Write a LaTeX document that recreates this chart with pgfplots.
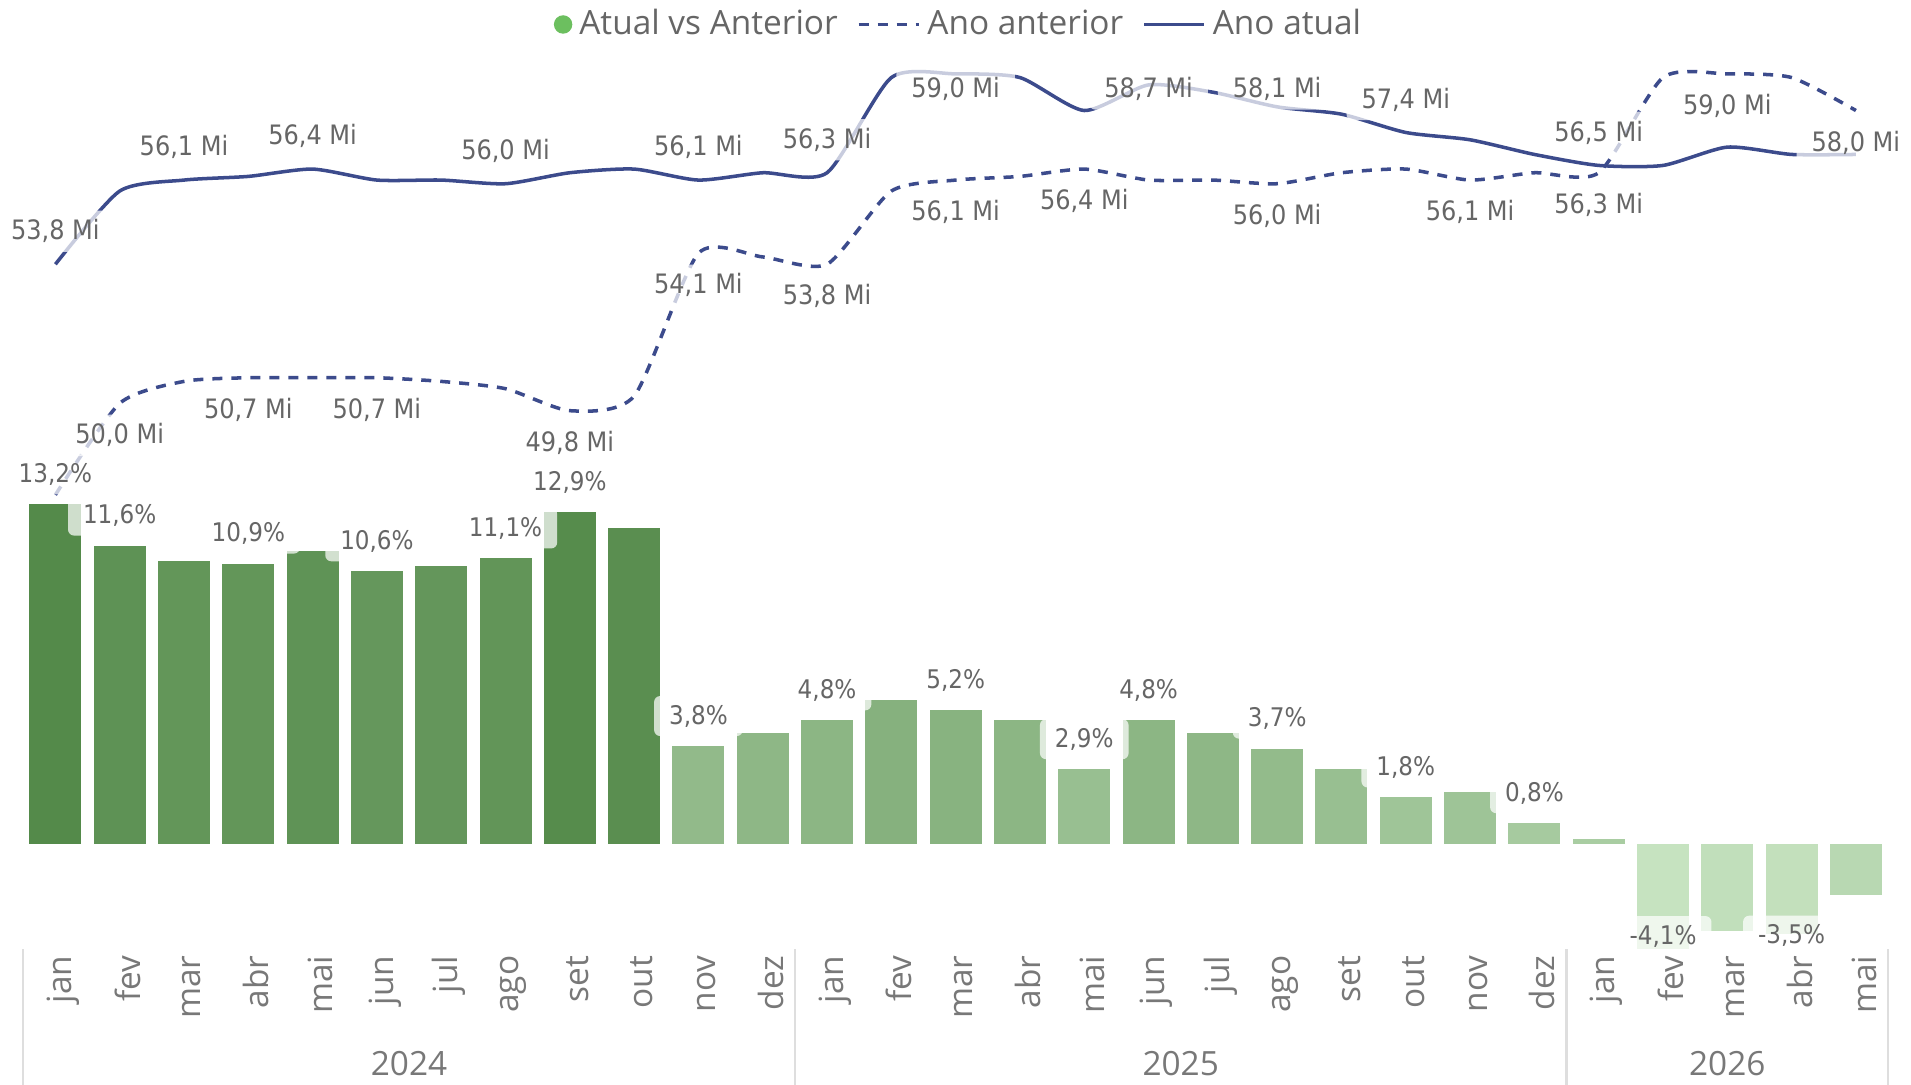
\documentclass[border=0pt]{standalone}
\usepackage{pgfplots}
\usepackage{pgfplotstable}
\pgfplotsset{compat=1.18}
\usepackage{fontspec}
\setmainfont{Open Sans}
\newfontfamily\dinfont{DejaVu Sans Condensed}

\definecolor{gdark}{RGB}{84,138,74}
\definecolor{glight}{RGB}{198,227,192}
\definecolor{navy}{RGB}{60,75,140}
\definecolor{legdot}{RGB}{108,191,95}
\definecolor{txt}{RGB}{102,102,102}
\definecolor{ticktxt}{RGB}{120,120,120}
\definecolor{sep}{RGB}{222,222,222}

% monthly totals (Mi): current year and same month one year before
\pgfplotstableread{
m atu ant
0  53.8 47.5
1  55.8 50.0
2  56.1 50.6
3  56.2 50.7
4  56.4 50.7
5  56.1 50.7
6  56.1 50.6
7  56.0 50.4
8  56.3 49.8
9  56.4 50.2
10 56.1 54.1
11 56.3 54.0
12 56.3 53.8
13 58.9 55.8
14 59.0 56.1
15 58.9 56.2
16 58.0 56.4
17 58.7 56.1
18 58.5 56.1
19 58.1 56.0
20 57.9 56.3
21 57.4 56.4
22 57.2 56.1
23 56.8 56.3
24 56.5 56.3
25 56.5 58.9
26 57.0 59.0
27 56.8 58.9
28 56.8 58.0
}\linedata

\tikzset{
  lbl/.style={font=\dinfont\fontsize{7.3}{8}\selectfont, text=txt,
    fill=white, fill opacity=0.72, text opacity=1,
    inner xsep=0.15cm, inner ysep=0.09cm, rounded corners=0.06cm},
}
\pgfplotsset{
  /pgf/number format/assume math mode=true,
  milbl/.style={draw=none, forget plot,
    nodes near coords={\pgfmathprintnumber[fixed,fixed zerofill,precision=1,use comma]{\pgfplotspointmeta}~Mi},
    every node near coord/.append style={lbl, font=\dinfont\fontsize{7.6}{8}\selectfont,
      anchor=center, yshift=#1}},
  pctlbl/.style={draw=none, fill=none, forget plot,
    nodes near coords={\pgfmathprintnumber[fixed,fixed zerofill,precision=1,use comma]{\pgfplotspointmeta}\%},
    every node near coord/.append style={lbl, anchor=center, yshift=#1}},
  base/.style={at={(0.2325cm,1.29cm)}, anchor=south west,
    scale only axis, width=18.648cm, height=8.95cm,
    xmin=-0.5, xmax=28.5, clip=false},
}

% bar coloured by value on the green gradient
\newcommand{\pbar}[2]{%
  \pgfmathtruncatemacro\mixp{round((#2+4.1)/17.3*100)}%
  \edef\doplot{\noexpand\addplot[fill=gdark!\mixp!glight, draw=none] coordinates {(#1,#2)};}%
  \doplot}

\begin{document}
\begin{tikzpicture}
\useasboundingbox (0,0) rectangle (19.11,10.84);

% lines: Ano anterior / Ano atual
\begin{axis}[base, ymin=34.93, ymax=59.38, hide axis,
  legend style={at={(axis description cs:0.5029,1.0397)}, anchor=center,
    draw=none, fill=none, legend columns=-1, text=txt,
    font=\fontsize{9.5}{11}\selectfont,
    /tikz/every even column/.append style={column sep=0.12cm}},
  legend cell align=left]
\addlegendimage{legend image code/.code={\fill[legdot] (0.08cm,0cm) circle (0.085cm);}}
\addlegendentry{Atual vs Anterior}
\addplot[navy, line width=1pt, dash pattern=on 0.1cm off 0.09cm, smooth, tension=0.4]
  table[x=m, y=ant] \linedata;
\addlegendentry{Ano anterior}
\addplot[navy, line width=1pt, smooth, tension=0.4] table[x=m, y=atu] \linedata;
\addlegendentry{Ano atual}
% labels
\addplot[milbl=0.33cm] coordinates {(0,53.8)(2,56.1)(4,56.4)(7,56.0)(10,56.1)(12,56.3)(21,57.4)(24,56.5)};
\addplot[milbl=-0.15cm] coordinates {(14,59.0)};
\addplot[milbl=-0.04cm] coordinates {(17,58.7)};
\addplot[milbl=0.18cm] coordinates {(19,58.1)};
\addplot[milbl=-0.32cm] coordinates {(1,50.0)(3,50.7)(5,50.7)(8,49.8)(10,54.1)(12,53.8)(14,56.1)(16,56.4)(19,56.0)(22,56.1)(24,56.3)(26,59.0)(28,58.0)};
\end{axis}

% bars: Atual vs Anterior (%)
\begin{axis}[base, ymin=-4.33, ymax=30.49,
  ybar, bar width=0.52cm, bar shift=0pt,
  axis line style={draw=none}, ytick=\empty, major tick length=0pt,
  xtick={0,...,28},
  xticklabels={jan,fev,mar,abr,mai,jun,jul,ago,set,out,nov,dez,
               jan,fev,mar,abr,mai,jun,jul,ago,set,out,nov,dez,
               jan,fev,mar,abr,mai},
  xticklabel style={rotate=90, anchor=east, inner sep=0pt, yshift=-0.08cm,
    font=\fontsize{9.5}{11}\selectfont, text=ticktxt}]
\pbar{0}{13.2}\pbar{1}{11.6}\pbar{2}{11.0}\pbar{3}{10.9}\pbar{4}{11.4}
\pbar{5}{10.6}\pbar{6}{10.8}\pbar{7}{11.1}\pbar{8}{12.9}\pbar{9}{12.3}
\pbar{10}{3.8}\pbar{11}{4.3}\pbar{12}{4.8}\pbar{13}{5.6}\pbar{14}{5.2}
\pbar{15}{4.8}\pbar{16}{2.9}\pbar{17}{4.8}\pbar{18}{4.3}\pbar{19}{3.7}
\pbar{20}{2.9}\pbar{21}{1.8}\pbar{22}{2.0}\pbar{23}{0.8}\pbar{24}{0.2}
\pbar{25}{-4.1}\pbar{26}{-3.4}\pbar{27}{-3.5}\pbar{28}{-2.0}
\addplot[pctlbl=0.3cm] coordinates {(0,13.2)(1,11.6)(3,10.9)(5,10.6)(7,11.1)(8,12.9)(10,3.8)(12,4.8)(14,5.2)(16,2.9)(17,4.8)(19,3.7)(21,1.8)(23,0.8)};
\addplot[pctlbl=0.13cm] coordinates {(25,-4.1)};
\addplot[pctlbl=-0.02cm] coordinates {(27,-3.5)};
% year groups
\pgfplotsinvokeforeach{-0.5,11.5,23.5,28.5}{
  \draw[sep, line width=0.6pt] (axis cs:#1,-4.10) -- (axis cs:#1,-9.45);
}
\node[font=\fontsize{9.5}{11}\selectfont, text=ticktxt] at (axis cs:5.5,-4.33) [yshift=-1.09cm] {2024};
\node[font=\fontsize{9.5}{11}\selectfont, text=ticktxt] at (axis cs:17.5,-4.33) [yshift=-1.09cm] {2025};
\node[font=\fontsize{9.5}{11}\selectfont, text=ticktxt] at (axis cs:26,-4.33) [yshift=-1.09cm] {2026};
\end{axis}
\end{tikzpicture}
\end{document}
